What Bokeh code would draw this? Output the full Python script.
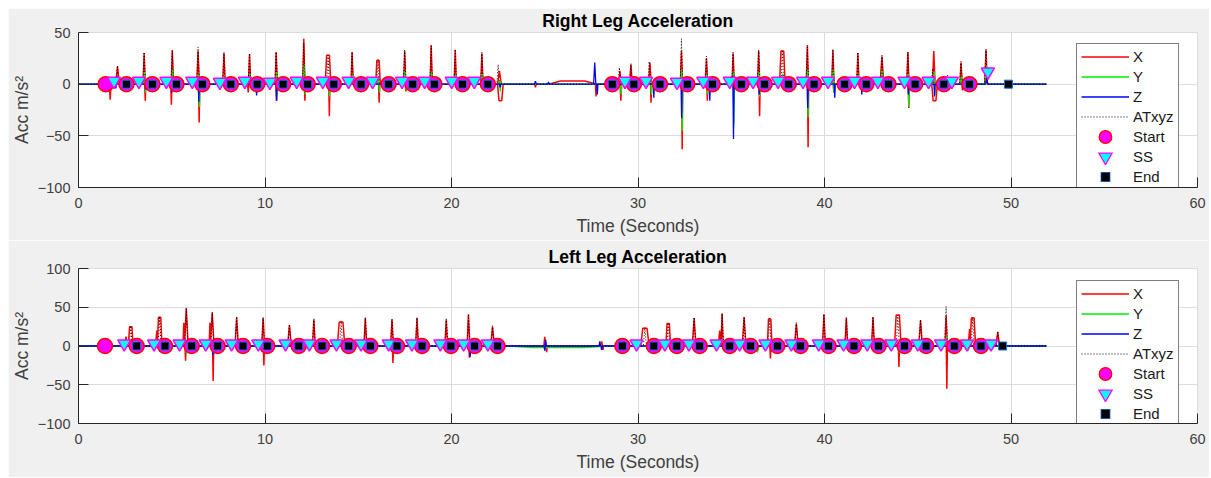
import numpy as np
from bokeh.plotting import figure
from bokeh.models import Range1d, FixedTicker, Legend, LegendItem
from bokeh.layouts import column
from bokeh.embed import file_html
from bokeh.resources import INLINE

T_END = 51.9
FONT = "Liberation Sans"

# ======================= Right leg (top panel) =======================
R_start_t = [1.46, 2.57, 3.96, 5.25, 6.64, 8.17, 9.58, 10.97, 12.29, 13.69, 15.15, 16.63, 17.92,
             19.08, 20.59, 21.95, 28.62, 29.78, 31.18, 32.64, 34.0, 35.54, 36.79, 38.08, 39.44,
             41.08, 42.24, 43.43, 44.86, 46.4, 47.77]
R_end_t = [2.57, 3.96, 5.25, 6.64, 8.17, 9.58, 10.97, 12.29, 13.69, 15.15, 16.63, 17.92,
           19.08, 20.59, 21.95, 28.62, 29.78, 31.18, 32.64, 34.0, 35.54, 36.79, 38.08, 39.44,
           41.08, 42.24, 43.43, 44.86, 46.4, 47.77, 49.86]
R_ss_t = [1.9, 3.24, 4.71, 6.1, 7.58, 8.92, 10.26, 11.7, 13.1, 14.48, 15.77, 17.35, 18.56, 20.01,
          21.22, 29.3, 30.43, 32.09, 33.5, 34.92, 36.17, 37.51, 38.85, 40.19, 41.61, 42.86,
          44.29, 45.58, 46.83, 48.76]
R_ss_v = [3, 3, 3, 3, 2, 3, 2, 3, 3, 3, 3, 3, 3, 3, 3, 3, 3, 2, 3, 3, 3, 3, 3, 3, 3, 3, 3, 3, 3, 12]

# X (red) spikes: time, value, width
RX_t = [2.09, 3.52, 5.03, 6.41, 7.8, 9.17, 10.6, 12.08, 13.38, 14.67, 16.06, 17.49, 18.91, 20.2,
        21.63, 22.57, 26.5, 29.03, 29.62, 30.64, 32.33, 33.67, 35.1, 36.47, 37.74, 39.08, 40.45,
        41.79, 43.08, 44.47, 45.86, 47.32, 48.66,
        1.7, 3.58, 4.98, 6.47, 9.1, 10.62, 12.14, 13.45, 16.12, 17.55, 18.98, 21.7, 22.62, 24.5,
        27.75, 29.08, 30.7, 32.37, 33.72, 36.52, 39.12, 40.5, 42.0, 44.52, 45.9, 47.4]
RX_v = [17, 30, 33, 32, 30, 29, 31, 44, 28, 31, 23, 32, 38, 33,
        30, 13, 3, 13, 19, 21, 32, 25, 30, 32, 32, 38, 33,
        30, 27, 31, 32, 21, 33,
        -15, -16, -20, -37, -8, -16, -16, -31, -18, -7, -6, -5, -16, -3,
        -12, -16, -18, -63, -16, -31, -61, -8, -6, -23, -16, -6]
RX_w = [0.2, 0.12, 0.12, 0.14, 0.14, 0.12, 0.12, 0.12, 0.3, 0.12, 0.25, 0.12, 0.12, 0.12,
        0.12, 0.2, 2.6, 0.12, 0.14, 0.14, 0.12, 0.14, 0.12, 0.12, 0.3, 0.12, 0.12,
        0.12, 0.2, 0.12, 0.14, 0.12, 0.14,
        0.08, 0.06, 0.06, 0.06, 0.06, 0.06, 0.06, 0.06, 0.06, 0.06, 0.06, 0.06, 0.3, 0.08,
        0.06, 0.08, 0.06, 0.06, 0.06, 0.06, 0.06, 0.06, 0.06, 0.06, 0.3, 0.06]

# Y (green)
RY_t = [2.11, 3.54, 5.05, 6.43, 7.82, 9.19, 10.62, 12.1, 13.4, 14.69, 16.08, 17.51, 18.93, 20.22,
        21.65, 22.59, 29.05, 29.64, 30.66, 32.35, 33.69, 35.12, 36.49, 37.76, 39.1, 40.47, 41.81,
        43.1, 44.49, 45.88, 47.34, 48.68,
        1.8, 3.6, 5.0, 6.49, 9.6, 10.64, 12.16, 13.47, 16.14, 17.57, 19.0, 22.62, 29.1, 30.72,
        32.37, 33.74, 35.14, 36.52, 39.12, 40.5, 44.52, 45.92]
RY_v = [8, 12, 14, 10, 8, 10, 12, 19, 6, 10, 8, 13, 12, 10,
        10, 4, 5, 6, 8, 14, 10, 12, 12, 10, 14, 14, 10,
        14, 10, 12, 8, 18,
        -5, -8, -6, -22, -8, -12, -10, -12, -8, -6, -5, -7, -10, -10,
        -45, -10, -40, -12, -32, -8, -22, -10]
RY_w = [0.1] * 32 + [0.06] * 22

# Z (blue)
RZ_t = [2.0, 3.6, 5.0, 6.45, 9.55, 10.62, 12.1, 13.45, 22.6, 27.82, 30.85, 32.34, 33.85, 35.12,
        36.5, 39.1, 40.55, 42.0, 43.15, 44.5, 45.9,
        1.95, 5.3, 8.5, 11.3, 24.5, 25.2, 27.68, 35.05, 43.3, 48.7]
RZ_v = [-4, -5, -8, -17, -11, -16, -5, -6, -3, -10, -13, -33, -16, -53,
        -10, -23, -13, -10, -5, -10, -12,
        4, 3, 3, 4, 3, 2, 21, 8, 6, 6]
RZ_w = [0.06] * 21 + [0.12, 0.12, 0.12, 0.12, 0.1, 0.1, 0.12, 0.08, 0.1, 0.12]

# ATxyz (black dotted)
RA_t = [2.09, 3.52, 5.03, 6.41, 7.8, 9.17, 10.6, 12.08, 13.38, 14.67, 16.06, 17.49, 18.91, 20.2,
        21.63, 22.5, 29.0, 29.62, 30.6, 32.33, 33.67, 35.1, 36.47, 37.74, 39.08, 40.45, 41.79,
        43.08, 44.47, 45.8, 46.6, 47.32, 48.66]
RA_v = [18, 31, 32, 36, 31, 30, 31, 40, 28, 31, 24, 33, 37, 34,
        31, 19, 16, 20, 22, 44, 27, 31, 33, 33, 36, 34, 31,
        28, 31, 15, 9, 22, 34]
RA_w = [0.14] * 33

# ======================= Left leg (bottom panel) =======================
L_start_t = [1.42, 3.12, 4.64, 6.07, 7.46, 8.82, 10.12, 11.81, 13.06, 14.49, 15.65, 17.08, 18.42,
             19.97, 21.24, 22.47, 29.16, 30.85, 32.08, 33.31, 34.92, 36.04, 37.47, 38.72, 40.22,
             41.58, 42.9, 44.29, 45.45, 46.96, 48.39]
L_end_t = [3.12, 4.64, 6.07, 7.46, 8.82, 10.12, 11.81, 13.06, 14.49, 15.65, 17.08, 18.42,
           19.97, 21.24, 22.47, 29.16, 30.85, 32.08, 33.31, 34.92, 36.04, 37.47, 38.72, 40.22,
           41.58, 42.9, 44.29, 45.45, 46.96, 48.39, 49.55]
L_ss_t = [2.45, 4.05, 5.42, 6.82, 8.21, 9.64, 11.1, 12.38, 13.83, 15.15, 16.63, 17.88, 19.4,
          20.65, 21.95, 29.92, 31.44, 32.73, 34.21, 35.45, 36.83, 38.22, 39.69, 41.02, 42.29,
          43.58, 45.0, 46.25, 47.64, 48.93]
L_ss_v = [3] * 30

LX_t = [2.8, 4.35, 5.78, 7.17, 8.48, 9.9, 11.31, 12.62, 14.08, 15.38, 16.81, 18.15, 19.72, 20.91,
        22.2, 30.37, 31.62, 33.01, 34.51, 35.69, 37.06, 38.49, 39.97, 41.17, 42.6, 43.93, 45.15,
        46.52, 47.95, 49.29,
        2.55, 4.2, 5.65, 7.05, 34.38, 47.78, 25.0, 28.05,
        5.74, 7.22, 9.94, 16.86, 20.96, 37.1, 43.99, 46.56, 31.0, 18.3, 25.1, 28.12]
LX_v = [25, 37, 49, 43, 37, 36, 27, 34, 31, 36, 34, 36, 34, 41,
        25, 23, 29, 36, 42, 37, 35, 29, 41, 36, 37, 40, 33,
        39, 36, 18,
        12, 20, 30, 30, 20, 22, 12, 6,
        -19, -45, -25, -22, -15, -16, -27, -55, -6, -5, -8, -5]
LX_w = [0.25, 0.25, 0.2, 0.2, 0.18, 0.15, 0.2, 0.15, 0.4, 0.15, 0.15, 0.15, 0.15, 0.15,
        0.2, 0.45, 0.25, 0.2, 0.12, 0.2, 0.25, 0.2, 0.15, 0.15, 0.15, 0.35, 0.2,
        0.12, 0.3, 0.2,
        0.15, 0.15, 0.1, 0.1, 0.15, 0.15, 0.1, 0.1,
        0.06, 0.06, 0.06, 0.06, 0.06, 0.06, 0.06, 0.06, 0.08, 0.08, 0.08, 0.08]

LY_t = [3.2, 4.5, 5.8, 6.9, 8.6, 10.0, 11.6, 13.2, 14.6, 15.8, 17.2, 19.9, 21.1, 25.7, 32.2,
        34.7, 36.4, 40.3, 41.4, 42.9, 44.0, 45.3, 47.7, 46.55]
LY_v = [-5, -5, -10, -4, -5, -4, -3, -6, -5, -4, -3, -6, -8, -2, -8,
        -7, -8, -8, -6, -6, -8, -5, -6, 14]
LY_w = [0.2] * 13 + [5.5] + [0.2] * 9 + [0.06]

LZ_t = [7.2, 21.0, 25.0, 28.05, 37.3, 41.7, 25.05, 27.95, 21.1, 9.8, 14.9]
LZ_v = [-12, -14, -6, -5, -4, -3, 8, 6, 4, 2, 2]
LZ_w = [0.06, 0.08, 0.08, 0.08, 0.08, 0.08, 0.08, 0.08, 0.08, 0.2, 0.2]

LA_t = [2.8, 4.35, 5.78, 7.17, 8.48, 9.9, 11.31, 12.62, 14.08, 15.38, 16.81, 18.15, 19.72, 20.91,
        22.2, 30.37, 31.62, 33.01, 34.51, 35.69, 37.06, 38.49, 39.97, 41.17, 42.6, 43.93, 45.15,
        46.52, 47.95, 49.29]
LA_v = [26, 38, 48, 44, 38, 37, 28, 35, 32, 37, 35, 37, 35, 40,
        26, 24, 30, 37, 42, 38, 36, 30, 41, 37, 38, 40, 34,
        51, 37, 19]
LA_w = [0.16] * 30


def pulses(t, v, w):
    ev = sorted(zip(t, v, w))
    xs, ys = [0.0], [0.0]
    for ti, vi, wi in ev:
        h = wi / 2.0
        if wi >= 0.25:
            xs += [ti - h, ti - h / 2, ti + h / 2, ti + h]
            ys += [0, vi, vi, 0]
        else:
            xs += [ti - h, ti, ti + h]
            ys += [0, vi, 0]
    xs.append(T_END)
    ys.append(0.0)
    return xs, ys


def make_panel(title, ylo, yhi, yticks, series, start_t, ss_t, ss_v, end_t,
               height, top_b, bot_b, legend_loc):
    p = figure(width=1201, height=height, output_backend="svg", toolbar_location=None,
               x_range=Range1d(0, 60), y_range=Range1d(ylo, yhi),
               min_border_left=68, min_border_right=12, min_border_top=top_b,
               min_border_bottom=bot_b)
    p.border_fill_color = "#f0f0f0"
    p.background_fill_color = "white"
    p.outline_line_color = "#dcdcdc"
    p.title.text = title
    p.title.align = "center"
    p.title.vertical_align = "top"
    p.title.text_font = FONT
    p.title.text_font_size = "17.6px"
    p.title.text_font_style = "bold"
    p.title.text_color = "black"
    p.title.standoff = 0

    p.xaxis.ticker = FixedTicker(ticks=[0, 10, 20, 30, 40, 50, 60])
    p.yaxis.ticker = FixedTicker(ticks=yticks)
    p.yaxis.major_label_overrides = {t: ("\u2212" + str(-t)) for t in yticks if t < 0}
    p.xaxis.axis_label = "Time (Seconds)"
    p.yaxis.axis_label = "Acc m/s²"
    for ax in (p.xaxis[0], p.yaxis[0]):
        ax.axis_line_color = "#262626"
        ax.major_tick_line_color = "#262626"
        ax.major_tick_in = 10
        ax.major_tick_out = 0
        ax.minor_tick_line_color = None
        ax.major_label_text_font = FONT
        ax.major_label_text_font_size = "14.5px"
        ax.major_label_text_color = "#404040"
        ax.axis_label_text_font = FONT
        ax.axis_label_text_font_size = "17.5px"
        ax.axis_label_text_font_style = "normal"
        ax.axis_label_text_color = "#404040"
    p.xaxis.major_label_standoff = 10
    p.xaxis.axis_label_standoff = 5
    p.yaxis.major_label_standoff = 8
    p.yaxis.axis_label_standoff = 3
    p.grid.grid_line_color = "#dcdcdc"

    items = []
    colors = ["#ff0000", "#00ee00", "#0000ff"]
    widths = [1.5, 1.3, 1.3]
    names = ["X", "Y", "Z"]
    for (t, v, w), c, lw, n in zip(series[:3], colors, widths, names):
        xs, ys = pulses(t, v, w)
        r = p.line(xs, ys, line_color=c, line_width=lw)
        items.append(LegendItem(label=n, renderers=[r]))
    t, v, w = series[3]
    xs, ys = pulses(t, v, w)
    r = p.line(xs, ys, line_color="black", line_width=1, line_dash="1 2")
    items.append(LegendItem(label="ATxyz", renderers=[r]))

    z_start = np.zeros(len(start_t))
    z_end = np.zeros(len(end_t))
    p.scatter(start_t, z_start, marker="circle", size=15,
              fill_color="#ff00ff", line_color="#ff0000", line_width=1.5)
    p.scatter(ss_t, ss_v, marker="inverted_triangle", size=13,
              fill_color="#00ffff", line_color="#ff00ff", line_width=1.5)
    p.scatter(end_t, z_end, marker="square", size=8,
              fill_color="black", line_color="#1a6fd9", line_width=1)

    # hidden duplicate layers used only to draw larger legend symbols
    ls1 = p.scatter(start_t, z_start, marker="circle", fill_color="#ff0000",
                    line_color="#ff0000", line_width=7, visible=False)
    ls2 = p.scatter(start_t, z_start, marker="circle", fill_color="#ff00ff",
                    line_color="#ff00ff", line_width=4.5, visible=False)
    lt1 = p.scatter(ss_t, ss_v, marker="inverted_triangle", fill_color="#ff00ff",
                    line_color="#ff00ff", line_width=5, line_join="miter", visible=False)
    lt2 = p.scatter(ss_t, ss_v, marker="inverted_triangle", fill_color="#00ffff",
                    line_color="#00ffff", line_width=2.5, line_join="miter", visible=False)
    le1 = p.scatter(end_t, z_end, marker="square", fill_color="#1a6fd9",
                    line_color="#1a6fd9", line_width=3, line_join="miter", visible=False)
    le2 = p.scatter(end_t, z_end, marker="square", fill_color="black", line_color="black",
                    line_width=1.5, line_join="miter", visible=False)
    items += [LegendItem(label="Start", renderers=[ls1, ls2]),
              LegendItem(label="SS", renderers=[lt1, lt2]),
              LegendItem(label="End", renderers=[le1, le2])]

    leg = Legend(items=items, location=legend_loc)
    leg.border_line_color = "black"
    leg.border_line_width = 1
    leg.background_fill_color = "white"
    leg.background_fill_alpha = 1
    leg.inactive_fill_alpha = 0
    leg.label_text_font = FONT
    leg.label_text_font_size = "15px"
    leg.label_text_color = "#1a1a1a"
    leg.glyph_width = 48
    leg.glyph_height = 17
    leg.label_height = 17
    leg.spacing = 3
    leg.padding = 4
    leg.margin = 0
    leg.label_standoff = 4
    p.add_layout(leg)
    return p


p1 = make_panel("Right Leg Acceleration", -100, 50, [-100, -50, 0, 50],
                [(RX_t, RX_v, RX_w), (RY_t, RY_v, RY_w), (RZ_t, RZ_v, RZ_w), (RA_t, RA_v, RA_w)],
                R_start_t, R_ss_t, R_ss_v, R_end_t, 232, 24, 53, (998, -3))
p2 = make_panel("Left Leg Acceleration", -100, 100, [-100, -50, 0, 50, 100],
                [(LX_t, LX_v, LX_w), (LY_t, LY_v, LY_w), (LZ_t, LZ_v, LZ_w), (LA_t, LA_v, LA_w)],
                L_start_t, L_ss_t, L_ss_v, L_end_t, 237, 28, 54, (998, -4))

layout = column(p1, p2, margin=(8, 2, 1, 8), spacing=0)
open("out.html", "w").write(file_html(layout, INLINE))
